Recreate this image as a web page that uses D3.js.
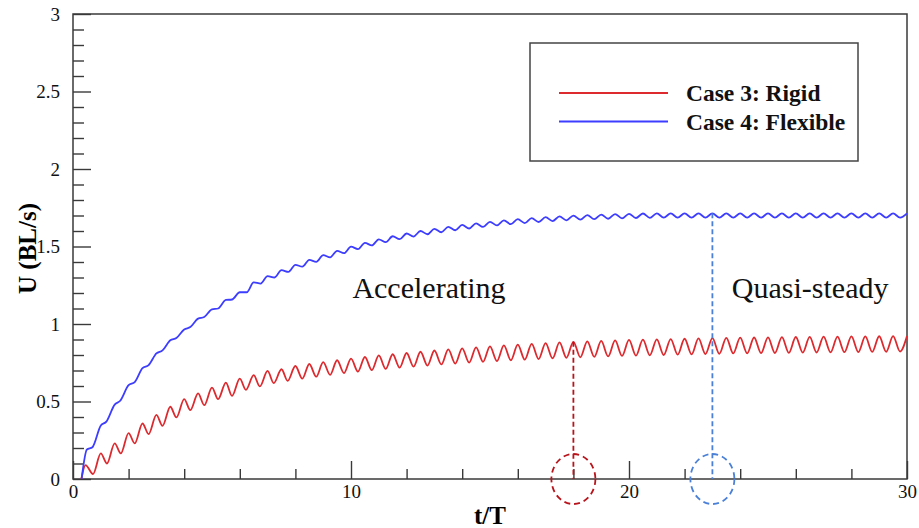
<!DOCTYPE html>
<html>
<head>
<meta charset="utf-8">
<script src="https://cdn.jsdelivr.net/npm/d3@7"></script>
<style>
  body { margin: 0; background: #fff; }
  svg { display: block; }
</style>
</head>
<body>
<svg id="chart"></svg>
<script>
// series names
const seriesNames = ['Case 3: Rigid', 'Case 4: Flexible'];

// Case 3 (rigid): [t/T, U] at the crests and troughs of the wiggle
const rigidPts = [
  [0.3,0],[0.45,0.09],[0.72,0.032],[1.0,0.165],[1.22,0.10],[1.5,0.23],[1.72,0.165],
  [2.0,0.296],[2.22,0.23],[2.5,0.358],[2.72,0.29],[3.0,0.414],[3.22,0.343],[3.5,0.466],
  [3.72,0.397],[4.0,0.515],[4.22,0.444],[4.5,0.552],[4.72,0.476],[5.0,0.59],[5.22,0.515],
  [5.5,0.622],[5.72,0.536],[6.0,0.648],[6.22,0.575],[6.5,0.67],[6.72,0.597],[7.0,0.697],
  [7.22,0.618],[7.5,0.708],[7.72,0.633],[8.0,0.729],[8.25,0.647],[8.5,0.742],[8.75,0.66],
  [9.0,0.754],[9.25,0.672],[9.5,0.766],[9.75,0.683],[10.0,0.777],[10.25,0.693],[10.5,0.787],
  [10.75,0.702],[11.0,0.797],[11.25,0.71],[11.5,0.805],[11.75,0.718],[12.0,0.813],[12.25,0.725],
  [12.5,0.821],[12.75,0.732],[13.0,0.829],[13.25,0.739],[13.5,0.836],[13.75,0.745],[14.0,0.843],
  [14.25,0.751],[14.5,0.849],[14.75,0.756],[15.0,0.856],[15.25,0.761],[15.5,0.862],[15.75,0.766],
  [16.0,0.867],[16.25,0.77],[16.5,0.872],[16.75,0.774],[17.0,0.877],[17.25,0.778],[17.5,0.881],
  [17.75,0.782],[18.0,0.885],[18.25,0.785],[18.5,0.888],[18.75,0.788],[19.0,0.891],[19.25,0.791],
  [19.5,0.894],[19.75,0.794],[20.0,0.897],[20.25,0.796],[20.5,0.899],[20.75,0.798],[21.0,0.901],
  [21.25,0.80],[21.5,0.903],[21.75,0.802],[22.0,0.905],[22.25,0.804],[22.5,0.907],[22.75,0.806],
  [23.0,0.909],[23.25,0.808],[23.5,0.911],[23.75,0.81],[24.0,0.912],[24.25,0.811],[24.5,0.913],
  [24.75,0.812],[25.0,0.914],[25.25,0.813],[25.5,0.915],[25.75,0.814],[26.0,0.916],[26.25,0.815],
  [26.5,0.917],[26.75,0.816],[27.0,0.918],[27.25,0.817],[27.5,0.919],[27.75,0.818],[28.0,0.92],
  [28.25,0.819],[28.5,0.92],[28.75,0.82],[29.0,0.921],[29.25,0.821],[29.5,0.922],[29.75,0.822],
  [30.0,0.922]
];

// Case 4 (flexible): same sampling, steps early on, small ripple later
const flexiblePts = [
  [0.31,0],[0.5,0.19],[0.7,0.205],[1.0,0.345],[1.2,0.37],[1.5,0.48],[1.7,0.505],
  [2.0,0.605],[2.22,0.625],[2.5,0.715],[2.72,0.735],[3.0,0.81],[3.22,0.83],[3.5,0.895],
  [3.72,0.91],[4.0,0.965],[4.22,0.98],[4.5,1.035],[4.72,1.045],[5.0,1.095],[5.22,1.10],
  [5.5,1.155],[5.72,1.158],[6.0,1.205],[6.25,1.205],[6.5,1.269],[6.75,1.261],[7.0,1.309],
  [7.25,1.30],[7.5,1.347],[7.75,1.336],[8.0,1.382],[8.25,1.37],[8.5,1.414],[8.75,1.401],
  [9.0,1.444],[9.25,1.43],[9.5,1.472],[9.75,1.457],[10.0,1.499],[10.25,1.483],[10.5,1.524],
  [10.75,1.507],[11.0,1.546],[11.25,1.528],[11.5,1.566],[11.75,1.547],[12.0,1.584],[12.25,1.564],
  [12.5,1.60],[12.75,1.579],[13.0,1.614],[13.25,1.592],[13.5,1.627],[13.75,1.605],[14.0,1.639],
  [14.25,1.616],[14.5,1.649],[14.75,1.626],[15.0,1.659],[15.25,1.636],[15.5,1.668],[15.75,1.644],
  [16.0,1.676],[16.25,1.651],[16.5,1.683],[16.75,1.658],[17.0,1.689],[17.25,1.664],[17.5,1.694],
  [17.75,1.669],[18.0,1.699],[18.25,1.673],[18.5,1.703],[18.75,1.676],[19.0,1.706],[19.25,1.679],
  [19.5,1.709],[19.75,1.682],[20.0,1.711],[20.25,1.684],[20.5,1.713],[20.75,1.685],[21.0,1.714],
  [21.25,1.686],[21.5,1.714],[21.75,1.686],[22.0,1.714],[22.25,1.686],[22.5,1.714],[22.75,1.686],
  [23.0,1.714],[23.25,1.686],[23.5,1.714],[23.75,1.686],[24.0,1.714],[24.25,1.686],[24.5,1.714],
  [24.75,1.686],[25.0,1.714],[25.25,1.686],[25.5,1.714],[25.75,1.686],[26.0,1.714],[26.25,1.686],
  [26.5,1.714],[26.75,1.686],[27.0,1.714],[27.25,1.686],[27.5,1.714],[27.75,1.686],[28.0,1.714],
  [28.25,1.686],[28.5,1.714],[28.75,1.686],[29.0,1.714],[29.25,1.686],[29.5,1.714],[29.75,1.686],
  [30.0,1.714]
];

// where each case stops accelerating (dashed marker + circle)
const markerT = [18, 23];
const markerU = [0.885, 1.714];

const phaseLabels = ['Accelerating', 'Quasi-steady'];

const xMajorTicks = [0, 10, 20, 30];
const yMajorTicks = [0, 0.5, 1, 1.5, 2, 2.5, 3];

const serif = '"Liberation Serif", "Times New Roman", Times, serif';

class SpeedChart {

  constructor(_config, _data) {
    this.config = {
      parentElement: _config.parentElement,
      containerWidth: _config.containerWidth || 919,
      containerHeight: _config.containerHeight || 528,
      margin: {top: 14, right: 12, bottom: 49, left: 73}
    }
    this.data = _data;
    this.initVis();
  }

  initVis() {
    let vis = this;
    const m = vis.config.margin;
    const width = vis.config.containerWidth;
    const height = vis.config.containerHeight;

    vis.svg = d3.select(vis.config.parentElement)
      .attr('width', width)
      .attr('height', height);

    vis.xScale = d3.scaleLinear()
      .domain([0, 30])
      .range([m.left, width - m.right]);

    vis.yScale = d3.scaleLinear()
      .domain([0, 3])
      .range([height - m.bottom, m.top]);

    const x0 = vis.xScale.range()[0], x1 = vis.xScale.range()[1];
    const y0 = vis.yScale.range()[0], y1 = vis.yScale.range()[1];

    // minor ticks (no labels), pointing inward
    const xMinor = d3.range(0, 30.001, 2).filter(d => !xMajorTicks.includes(d));
    const yMinor = d3.range(0, 30.001, 1).map(d => d / 10).filter(d => !yMajorTicks.includes(d));

    const styleAxis = g => {
      g.attr('font-family', serif);
      g.select('.domain').remove();
      g.selectAll('line').attr('stroke', '#3a3a3a').attr('stroke-width', 1.4);
      g.selectAll('text')
        .attr('fill', '#111')
        .style('font-family', serif)
        .style('font-size', '19px');
    };

    vis.svg.append('g')
      .attr('transform', `translate(0, ${y0})`)
      .call(d3.axisBottom(vis.xScale).tickValues(xMinor).tickSize(-10).tickFormat(''))
      .call(styleAxis);

    vis.svg.append('g')
      .attr('transform', `translate(0, ${y0})`)
      .call(d3.axisBottom(vis.xScale).tickValues(xMajorTicks).tickSize(-18).tickPadding(6).tickFormat(d3.format('d')))
      .call(styleAxis);

    vis.svg.append('g')
      .attr('transform', `translate(${x0}, 0)`)
      .call(d3.axisLeft(vis.yScale).tickValues(yMinor).tickSize(-11).tickFormat(''))
      .call(styleAxis);

    vis.svg.append('g')
      .attr('transform', `translate(${x0}, 0)`)
      .call(d3.axisLeft(vis.yScale).tickValues(yMajorTicks).tickSize(-18).tickPadding(13).tickFormat(d3.format('~g')))
      .call(styleAxis);

    // frame
    vis.svg.append('rect')
      .attr('x', x0)
      .attr('y', y1)
      .attr('width', x1 - x0)
      .attr('height', y0 - y1)
      .attr('fill', 'none')
      .attr('stroke', '#3a3a3a')
      .attr('stroke-width', 1.5);

    // axis titles
    vis.svg.append('text')
      .attr('x', (x0 + x1) / 2)
      .attr('y', 524)
      .attr('text-anchor', 'middle')
      .style('font-family', serif)
      .style('font-weight', 'bold')
      .style('font-size', '25px')
      .text('t/T');

    vis.svg.append('text')
      .attr('transform', `translate(36, ${(y0 + y1) / 2 + 2}) rotate(-90)`)
      .attr('text-anchor', 'middle')
      .style('font-family', serif)
      .style('font-weight', 'bold')
      .style('font-size', '25px')
      .text('U (BL/s)');

    vis.line = d3.line()
      .x(d => vis.xScale(d[0]))
      .y(d => vis.yScale(d[1]))
      .curve(d3.curveMonotoneX);

    vis.colors = ['#dc2a2e', '#3d3dff'];
    vis.markColors = ['#b8141c', '#4a80d8'];

    vis.updateVis();
  }

  updateVis() {
    let vis = this;

    vis.svg.selectAll('.series')
      .data(vis.data.series)
      .enter()
      .append('path')
      .attr('class', 'series')
      .attr('d', d => vis.line(d))
      .attr('fill', 'none')
      .attr('stroke', (d, i) => vis.colors[i])
      .attr('stroke-width', 1.8);

    const marks = vis.data.markerT.map((t, i) => ({t: t, u: vis.data.markerU[i], i: i}));

    vis.svg.selectAll('.marker-line')
      .data(marks)
      .enter()
      .append('line')
      .attr('class', 'marker-line')
      .attr('x1', d => vis.xScale(d.t))
      .attr('x2', d => vis.xScale(d.t))
      .attr('y1', d => vis.yScale(d.u))
      .attr('y2', vis.yScale(0))
      .attr('stroke', d => vis.markColors[d.i])
      .attr('stroke-width', 1.8)
      .attr('stroke-dasharray', '5,3');

    vis.svg.selectAll('.marker-ring')
      .data(marks)
      .enter()
      .append('ellipse')
      .attr('class', 'marker-ring')
      .attr('cx', d => vis.xScale(d.t))
      .attr('cy', vis.yScale(0))
      .attr('rx', 22)
      .attr('ry', 25)
      .attr('fill', 'none')
      .attr('stroke', d => vis.markColors[d.i])
      .attr('stroke-width', 1.8)
      .attr('stroke-dasharray', '6,4');

    // phase annotations
    const phasePos = [[10.05, 1.17], [23.7, 1.17]];
    vis.svg.selectAll('.phase')
      .data(vis.data.phaseLabels)
      .enter()
      .append('text')
      .attr('class', 'phase')
      .attr('x', (d, i) => vis.xScale(phasePos[i][0]))
      .attr('y', (d, i) => vis.yScale(phasePos[i][1]))
      .style('font-family', serif)
      .style('font-size', '30px')
      .attr('fill', '#111')
      .text(d => d);

    // legend
    const lg = vis.svg.append('g').attr('transform', 'translate(530, 43)');
    lg.append('rect')
      .attr('width', 328)
      .attr('height', 118)
      .attr('fill', '#fff')
      .attr('stroke', '#444')
      .attr('stroke-width', 1.5);

    const items = lg.selectAll('.item')
      .data(vis.data.names)
      .enter()
      .append('g')
      .attr('class', 'item')
      .attr('transform', (d, i) => `translate(0, ${50 + i * 28.5})`);

    items.append('line')
      .attr('x1', 29)
      .attr('x2', 138)
      .attr('stroke', (d, i) => vis.colors[i])
      .attr('stroke-width', 1.8);

    items.append('text')
      .attr('x', 156)
      .attr('y', 8)
      .style('font-family', serif)
      .style('font-weight', 'bold')
      .style('font-size', '23.5px')
      .attr('fill', '#111')
      .text(d => d);
  }
}

new SpeedChart({parentElement: '#chart'}, {
  series: [rigidPts, flexiblePts],
  names: seriesNames,
  markerT: markerT,
  markerU: markerU,
  phaseLabels: phaseLabels
});
</script>
</body>
</html>
